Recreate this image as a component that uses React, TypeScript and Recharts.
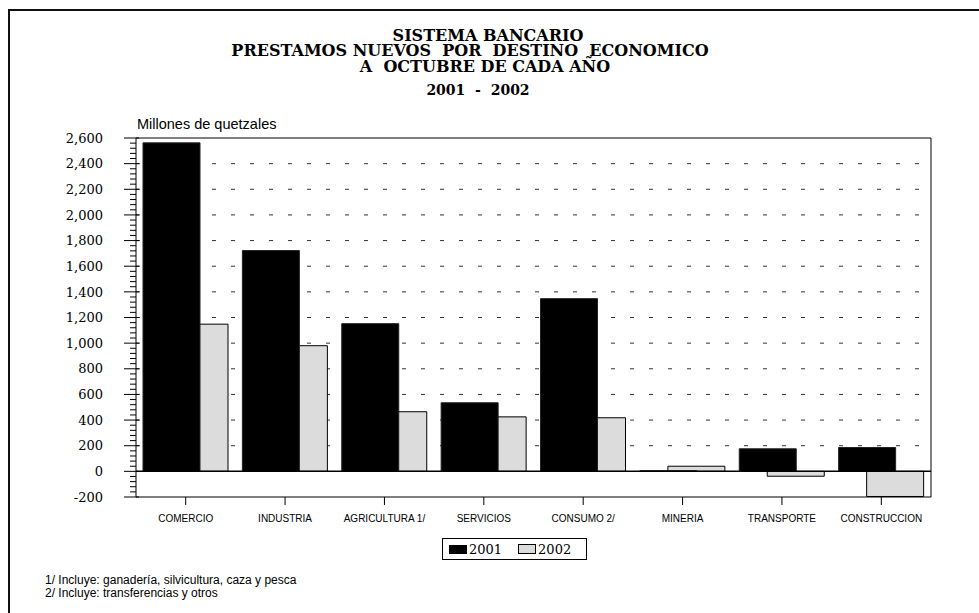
import React from 'react';
import { BarChart, Bar, XAxis, YAxis, CartesianGrid, ReferenceLine, Legend, Rectangle } from 'recharts';

const categories = [
  'COMERCIO',
  'INDUSTRIA',
  'AGRICULTURA 1/',
  'SERVICIOS',
  'CONSUMO 2/',
  'MINERIA',
  'TRANSPORTE',
  'CONSTRUCCION',
];
const values2001 = [2562, 1722, 1152, 535, 1347, 5, 176, 186];
const values2002 = [1148, 980, 465, 425, 418, 40, -38, -196];

const majorTicks = [-200, 0, 200, 400, 600, 800, 1000, 1200, 1400, 1600, 1800, 2000, 2200, 2400, 2600];
const MINOR_STEP = 40;
const gridValues = majorTicks.filter((v) => v > 0 && v < 2600);

const titleLines = [
  'SISTEMA BANCARIO',
  'PRESTAMOS NUEVOS  POR  DESTINO  ECONOMICO',
  'A  OCTUBRE DE CADA AÑO',
  '2001  -  2002',
];
const footnotes = ['1/ Incluye: ganadería, silvicultura, caza y pesca', '2/ Incluye: transferencias y otros'];

const data = categories.map((c, i) => ({ category: c, v2001: values2001[i], v2002: values2002[i] }));

const yTicks: number[] = [];
for (let v = majorTicks[0]; v <= majorTicks[majorTicks.length - 1]; v += MINOR_STEP) yTicks.push(v);

const BAR_SIZE = 57;
const BAR_GAP = -29;
const SHIFT = BAR_SIZE + BAR_GAP;

const SERIF = "'DejaVu Serif', serif";
const SANS = "'Liberation Sans', Arial, sans-serif";

const YTick = (props: any) => {
  const { x, y, payload } = props;
  const v = payload.value;
  const major = v % 200 === 0;
  return (
    <g>
      <line x1={major ? x - 12 : x - 6} x2={major ? x + 3 : x} y1={y} y2={y} stroke="#000" />
      {major && (
        <text x={x - 33} y={y} dy="0.36em" textAnchor="end" fontFamily={SERIF} fontSize={13} fill="#000">
          {v.toLocaleString('en-US')}
        </text>
      )}
    </g>
  );
};

const LegendBox = () => (
  <div
    style={{
      border: '1px solid #000',
      width: 143,
      height: 20,
      display: 'flex',
      alignItems: 'center',
      fontFamily: SERIF,
      fontSize: 13,
      color: '#000',
      boxSizing: 'content-box',
    }}
  >
    <span style={{ width: 18, height: 9, background: '#000', marginLeft: 6, marginRight: 2 }} />
    <span>2001</span>
    <span style={{ width: 16, height: 8, background: '#dcdcdc', border: '1px solid #000', marginLeft: 16, marginRight: 2 }} />
    <span>2002</span>
  </div>
);

export default function App() {
  return (
    <div style={{ position: 'absolute', left: 0, top: 0, width: 979, height: 613, background: '#fff' }}>
      <BarChart
        width={979}
        height={613}
        data={data}
        margin={{ top: 138, right: 48, bottom: 86, left: 0 }}
        barSize={BAR_SIZE}
        barGap={BAR_GAP}
      >
        <CartesianGrid vertical={false} horizontalValues={gridValues} stroke="#333" strokeDasharray="4 15" />
        <CartesianGrid
          horizontalValues={[2600]}
          verticalCoordinatesGenerator={({ offset }: any) => [offset.left + offset.width]}
          stroke="#000"
        />
        <XAxis
          dataKey="category"
          interval={0}
          height={30}
          tickSize={8}
          tickMargin={10}
          axisLine={{ stroke: '#000' }}
          tickLine={{ stroke: '#000' }}
          tick={{ fontSize: 10, fill: '#000', fontFamily: SANS }}
        />
        <YAxis
          domain={[-200, 2600]}
          ticks={yTicks}
          interval={0}
          width={136}
          tickSize={0}
          tickMargin={0}
          tickLine={false}
          axisLine={{ stroke: '#000' }}
          tick={<YTick />}
          allowDataOverflow
        />
        <Bar
          dataKey="v2002"
          name="2002"
          fill="#dcdcdc"
          stroke="#000"
          strokeWidth={1}
          isAnimationActive={false}
          shape={(p: any) => <Rectangle {...p} x={p.x + SHIFT} />}
        />
        <Bar
          dataKey="v2001"
          name="2001"
          fill="#000"
          stroke="#222"
          isAnimationActive={false}
          shape={(p: any) => <Rectangle {...p} x={p.x - SHIFT} />}
        />
        <ReferenceLine y={0} stroke="#000" strokeWidth={1.5} />
        <Legend
          verticalAlign="middle"
          align="center"
          layout="horizontal"
          wrapperStyle={{ left: 442, top: 538, width: 145 }}
          content={<LegendBox />}
        />
      </BarChart>

      <svg width={979} height={613} style={{ position: 'absolute', left: 0, top: 0, pointerEvents: 'none' }}>
        <line x1={8} x2={979} y1={10} y2={10} stroke="#111" strokeWidth={2} />
        <line x1={9} x2={9} y1={9} y2={613} stroke="#111" strokeWidth={2} />
        <text x={488} y={41} textAnchor="middle" fontFamily={SERIF} fontWeight="bold" fontSize={16} style={{ whiteSpace: 'pre' }}>
          {titleLines[0]}
        </text>
        <text x={470} y={56} textAnchor="middle" fontFamily={SERIF} fontWeight="bold" fontSize={16} style={{ whiteSpace: 'pre' }}>
          {titleLines[1]}
        </text>
        <text x={485} y={72} textAnchor="middle" fontFamily={SERIF} fontWeight="bold" fontSize={16} style={{ whiteSpace: 'pre' }}>
          {titleLines[2]}
        </text>
        <text x={478} y={95} textAnchor="middle" fontFamily={SERIF} fontWeight="bold" fontSize={14} style={{ whiteSpace: 'pre' }}>
          {titleLines[3]}
        </text>
        <text x={137} y={129} fontFamily={SANS} fontSize={14.5}>
          Millones de quetzales
        </text>
        <text x={45} y={584} fontFamily={SANS} fontSize={12}>
          {footnotes[0]}
        </text>
        <text x={45} y={597} fontFamily={SANS} fontSize={12}>
          {footnotes[1]}
        </text>
      </svg>
    </div>
  );
}
